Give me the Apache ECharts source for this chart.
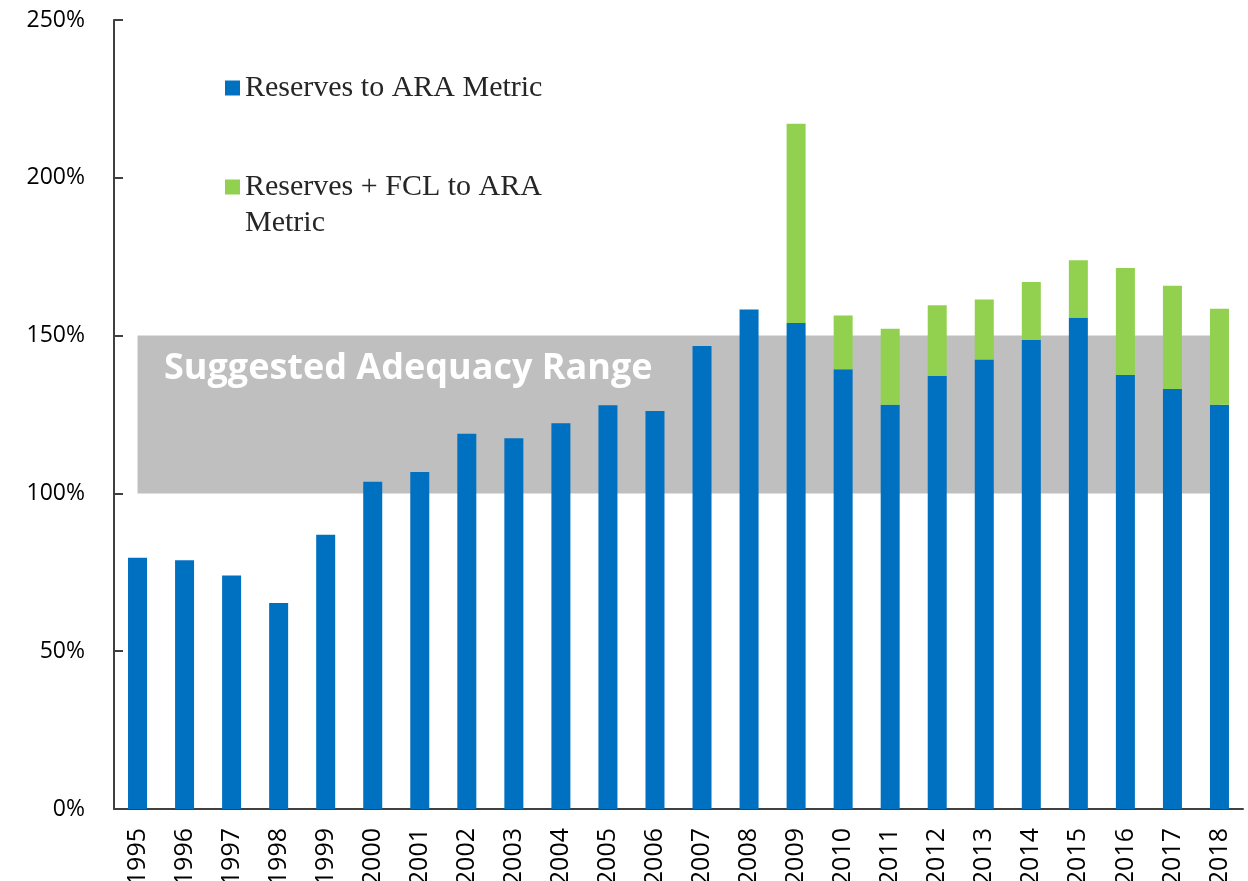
<!DOCTYPE html>
<html>
<head>
<meta charset="utf-8">
<script src="https://cdn.jsdelivr.net/npm/echarts@6/dist/echarts.min.js"></script>
<style>
  html, body { margin: 0; padding: 0; background: #fff; }
  #chart { width: 1248px; height: 881px; }
</style>
</head>
<body>
<div id="chart"></div>
<script>
const years = ['1995', '1996', '1997', '1998', '1999', '2000', '2001', '2002', '2003', '2004', '2005', '2006',
  '2007', '2008', '2009', '2010', '2011', '2012', '2013', '2014', '2015', '2016', '2017', '2018'];

// Reserves to ARA metric, %
const reserves = [79.6, 78.8, 74.0, 65.3, 86.9, 103.7, 106.8, 118.9, 117.5, 122.2, 127.9, 126.1,
  146.7, 158.3, 154.0, 139.3, 128.1, 137.2, 142.4, 148.6, 155.7, 137.5, 133.1, 128.1];

// Reserves + FCL to ARA metric (total height), % ; null where no FCL
const reservesFcl = [null, null, null, null, null, null, null, null, null, null, null, null,
  null, null, 217.1, 156.4, 152.2, 159.6, 161.4, 167.0, 173.9, 171.4, 165.8, 158.5];

// suggested adequacy range, low / high, %
const adequacyRange = [100, 150];
const yTicks = [0, 50, 100, 150, 200, 250];

const fclExtra = reservesFcl.map((t, i) => t == null ? null : +(t - reserves[i]).toFixed(1));
// band drawn like an excel stacked area: invisible base + gray width
const bandBase = years.map(() => adequacyRange[0]);
const bandWidth = years.map(() => adequacyRange[1] - adequacyRange[0]);

const BLUE = '#0070C0';
const GREEN = '#92D050';
const BAND = '#BFBFBF';
const AXIS = '#404040';

const chart = echarts.init(document.getElementById('chart'));

const legendText = {
  fontFamily: 'Liberation Serif',
  fontSize: 30,
  color: '#262626',
  lineHeight: 36
};

chart.setOption({
  animation: false,
  title: {
    text: 'Suggested Adequacy Range',
    left: 164,
    top: 347,
    padding: 0,
    textStyle: {
      color: '#fff',
      fontFamily: 'Open Sans',
      fontWeight: 'bold',
      fontSize: 36,
      lineHeight: 44
    }
  },
  grid: { left: 114, right: 5, top: 20, bottom: 72, containLabel: false, outerBoundsMode: 'none' },
  legend: [
    {
      data: ['Reserves to ARA Metric'],
      left: 225, top: 70, padding: 0,
      itemWidth: 15, itemHeight: 15,
      icon: 'rect',
      textStyle: legendText
    },
    {
      data: ['Reserves + FCL to ARA Metric'],
      left: 225, top: 133, padding: 0,
      itemWidth: 15, itemHeight: 15,
      icon: 'rect',
      formatter: () => '\nReserves + FCL to ARA\nMetric',
      textStyle: legendText
    }
  ],
  xAxis: {
    type: 'category',
    data: years,
    axisLine: { lineStyle: { color: AXIS, width: 2 } },
    axisTick: { show: false },
    axisLabel: {
      rotate: 90,
      margin: 19,
      fontFamily: 'Open Sans',
      fontSize: 25,
      color: '#000'
    }
  },
  yAxis: {
    type: 'value',
    min: yTicks[0],
    max: yTicks[yTicks.length - 1],
    interval: 50,
    splitLine: { show: false },
    axisLine: { show: true, lineStyle: { color: AXIS, width: 2 } },
    axisTick: { show: true, inside: true, length: 9, lineStyle: { color: AXIS, width: 2 } },
    axisLabel: {
      margin: 29,
      fontFamily: 'Open Sans',
      fontSize: 23,
      color: '#000',
      formatter: v => v + '%'
    }
  },
  series: [
    {
      name: 'bandBase',
      type: 'line',
      stack: 'band',
      data: bandBase,
      symbol: 'none',
      silent: true,
      lineStyle: { width: 0 },
      z: 1
    },
    {
      name: 'Suggested Adequacy Range',
      type: 'line',
      stack: 'band',
      data: bandWidth,
      symbol: 'none',
      silent: true,
      lineStyle: { width: 0 },
      areaStyle: { color: BAND, opacity: 1 },
      z: 1
    },
    {
      name: 'Reserves to ARA Metric',
      type: 'bar',
      stack: 'ara',
      barWidth: 19,
      itemStyle: { color: BLUE },
      data: reserves,
      z: 3
    },
    {
      name: 'Reserves + FCL to ARA Metric',
      type: 'bar',
      stack: 'ara',
      barWidth: 19,
      itemStyle: { color: GREEN },
      data: fclExtra,
      z: 3
    }
  ]
});
</script>
</body>
</html>
